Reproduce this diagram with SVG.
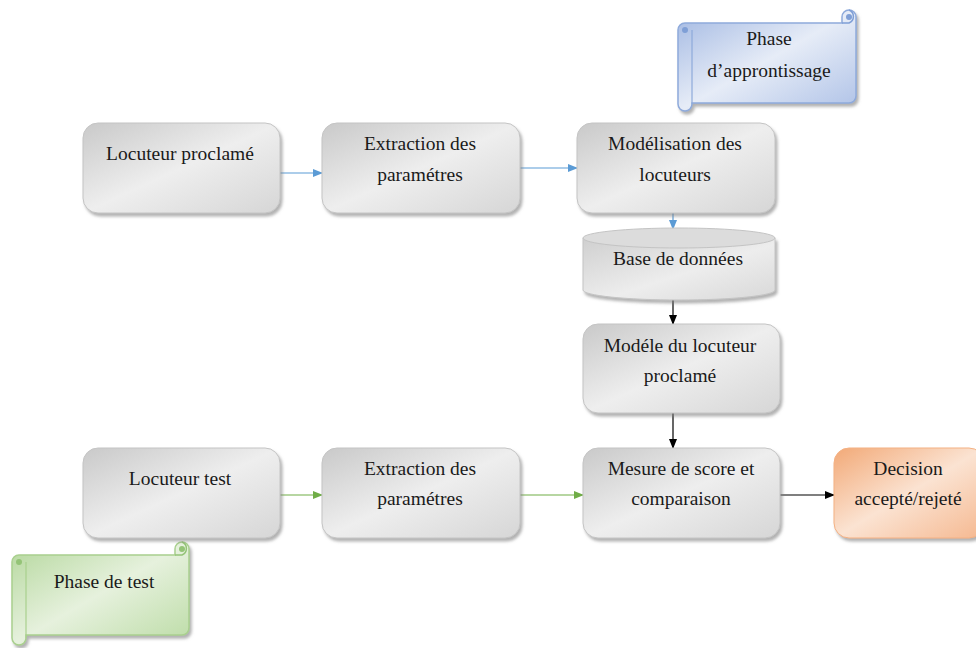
<svg xmlns="http://www.w3.org/2000/svg" width="976" height="648" viewBox="0 0 976 648">
<style>
text{font-family:"Liberation Serif","Times New Roman","DejaVu Serif",serif;font-size:19.5px;fill:#1a1a1a;text-anchor:middle}
.box{fill:url(#gGray);stroke:#c4c4c4;stroke-width:1;filter:url(#sh)}
.cb{stroke-width:1.2;fill:none}
.blue{stroke:#5b9bd5}
.green{stroke:#70ad47}
.black{stroke:#000}
</style>
<defs>
<linearGradient id="gGray" x1="0" y1="0" x2="1" y2="1">
<stop offset="0" stop-color="#c9c9c9"/><stop offset="0.5" stop-color="#eeeeee"/><stop offset="1" stop-color="#d6d6d6"/>
</linearGradient>
<linearGradient id="gCyl" x1="0" y1="0" x2="1" y2="1">
<stop offset="0" stop-color="#cfcfcf"/><stop offset="0.55" stop-color="#ededed"/><stop offset="1" stop-color="#d8d8d8"/>
</linearGradient>
<linearGradient id="gOr" x1="0" y1="0" x2="1" y2="1">
<stop offset="0" stop-color="#f2a977"/><stop offset="0.5" stop-color="#fbe3d2"/><stop offset="1" stop-color="#f5b890"/>
</linearGradient>
<linearGradient id="gBlue" x1="0" y1="0" x2="1" y2="1">
<stop offset="0" stop-color="#a2b8e2"/><stop offset="0.5" stop-color="#e6ecf7"/><stop offset="1" stop-color="#afc2e7"/>
</linearGradient>
<linearGradient id="gGreen" x1="0" y1="0" x2="1" y2="1">
<stop offset="0" stop-color="#b4d79c"/><stop offset="0.5" stop-color="#e6f1dd"/><stop offset="1" stop-color="#bcdca6"/>
</linearGradient>
<filter id="sh" x="-10%" y="-10%" width="125%" height="130%">
<feDropShadow dx="2" dy="3" stdDeviation="1.5" flood-color="#7f7f7f" flood-opacity="0.6"/>
</filter>
<marker id="aBlue" markerWidth="10" markerHeight="8" refX="9" refY="4" orient="auto" markerUnits="userSpaceOnUse"><path d="M0,0 L10,4 L0,8 Z" fill="#5b9bd5"/></marker>
<marker id="aGreen" markerWidth="10" markerHeight="8" refX="9" refY="4" orient="auto" markerUnits="userSpaceOnUse"><path d="M0,0 L10,4 L0,8 Z" fill="#70ad47"/></marker>
<marker id="aBlack" markerWidth="10" markerHeight="8" refX="9" refY="4" orient="auto" markerUnits="userSpaceOnUse"><path d="M0,0 L10,4 L0,8 Z" fill="#000"/></marker>
</defs>

<g id="connectors">
<line class="cb blue" x1="280" y1="173" x2="322" y2="173" marker-end="url(#aBlue)"/>
<line class="cb blue" x1="520" y1="168" x2="577" y2="168" marker-end="url(#aBlue)"/>
<line class="cb blue" x1="673" y1="213" x2="673" y2="229" marker-end="url(#aBlue)"/>
<line class="cb black" x1="673" y1="300" x2="673" y2="324" marker-end="url(#aBlack)"/>
<line class="cb black" x1="673" y1="413" x2="673" y2="448" marker-end="url(#aBlack)"/>
<line class="cb green" x1="280" y1="495" x2="322" y2="495" marker-end="url(#aGreen)"/>
<line class="cb green" x1="520" y1="495" x2="583" y2="495" marker-end="url(#aGreen)"/>
<line class="cb black" x1="780" y1="495" x2="834" y2="495" marker-end="url(#aBlack)"/>
</g>

<g id="phase-apprentissage">
<path d="M685,23 H842 V17 A7,7 0 0 1 856,17 V96 A7,7 0 0 1 849,103 H692 V104 A7,7 0 0 1 678,104 V30 A7,7 0 0 1 685,23 Z" fill="url(#gBlue)" stroke="#8eaadb" stroke-width="1.5" filter="url(#sh)"/>
<path d="M842,23 H849 A7,7 0 0 0 849,10" fill="none" stroke="#7f9fd6" stroke-width="1.5"/>
<circle cx="849" cy="17" r="3" fill="#7f9fd6"/>
<circle cx="685" cy="30" r="3" fill="#7f9fd6"/>
<path d="M692,30 V104" fill="none" stroke="#8eaadb" stroke-width="1.2"/>
<text x="769" y="45">Phase</text>
<text x="769" y="77">d’approntissage</text>
</g>

<g id="phase-test">
<path d="M19,555 H175 V549 A7,7 0 0 1 189,549 V628 A7,7 0 0 1 182,635 H26 V638 A7,7 0 0 1 12,638 V562 A7,7 0 0 1 19,555 Z" fill="url(#gGreen)" stroke="#a9d08e" stroke-width="1.5" filter="url(#sh)"/>
<path d="M175,555 H182 A7,7 0 0 0 182,542" fill="none" stroke="#94c477" stroke-width="1.5"/>
<circle cx="182" cy="549" r="3" fill="#94c477"/>
<circle cx="19" cy="562" r="3" fill="#94c477"/>
<path d="M26,562 V638" fill="none" stroke="#a9d08e" stroke-width="1.2"/>
<text x="104" y="588">Phase de test</text>
</g>

<g id="locuteur-proclame">
<rect class="box" x="83" y="123" width="197" height="90" rx="15"/>
<text x="180" y="160">Locuteur proclamé</text>
</g>

<g id="extraction-1">
<rect class="box" x="322" y="123" width="198" height="90" rx="15"/>
<text x="420" y="150">Extraction des</text>
<text x="420" y="181">paramétres</text>
</g>

<g id="modelisation">
<rect class="box" x="577" y="123" width="198" height="90" rx="15"/>
<text x="675" y="150">Modélisation des</text>
<text x="675" y="181">locuteurs</text>
</g>

<g id="base-donnees">
<path d="M583,238 V290 A96,10 0 0 0 775,290 V238 Z" fill="url(#gCyl)" stroke="#c4c4c4" filter="url(#sh)"/>
<ellipse cx="679" cy="238" rx="96" ry="10" fill="#dcdcdc" stroke="#c4c4c4"/>
<text x="678" y="265">Base de données</text>
</g>

<g id="modele-locuteur">
<rect class="box" x="583" y="324" width="197" height="89" rx="15"/>
<text x="680" y="352">Modéle du locuteur</text>
<text x="680" y="382">proclamé</text>
</g>

<g id="locuteur-test">
<rect class="box" x="83" y="448" width="197" height="90" rx="15"/>
<text x="180" y="485">Locuteur test</text>
</g>

<g id="extraction-2">
<rect class="box" x="322" y="448" width="198" height="90" rx="15"/>
<text x="420" y="475">Extraction des</text>
<text x="420" y="505">paramétres</text>
</g>

<g id="mesure-score">
<rect class="box" x="583" y="448" width="197" height="90" rx="15"/>
<text x="681" y="475">Mesure de score et</text>
<text x="681" y="505">comparaison</text>
</g>

<g id="decision">
<rect x="834" y="448" width="150" height="90" rx="15" fill="url(#gOr)" stroke="#f4b183" filter="url(#sh)"/>
<text x="908" y="475">Decision</text>
<text x="908" y="505">accepté/rejeté</text>
</g>
</svg>
